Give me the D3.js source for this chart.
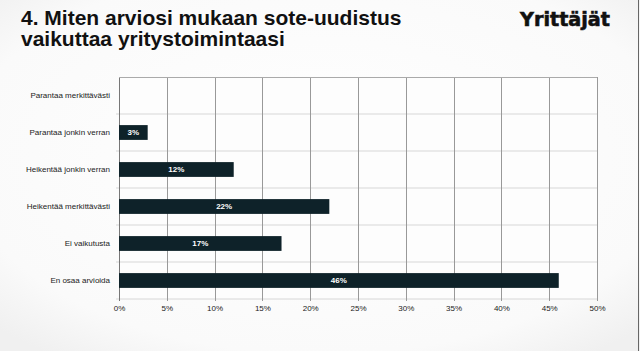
<!DOCTYPE html>
<meta charset="utf-8">
<style>
body { margin: 0; background: #fbfbfb; }
text { font-family: "Liberation Sans", Arial, sans-serif; }
.title { font-size: 21px; font-weight: bold; fill: #111; }
.brand { font-family: "DejaVu Sans", sans-serif; font-size: 19px; font-weight: bold; fill: #111; stroke: #111; stroke-width: 0.6px; }
.axis text { font-size: 8px; fill: #222; }
.bar { fill: #0e2229; }
.bar-label { fill: #fff; font-size: 8px; font-weight: bold; text-anchor: middle; }
</style>
<svg width="640" height="351"></svg>
<script src="https://cdn.jsdelivr.net/npm/d3@7"></script>
<script>

var categories = ["Parantaa merkittävästi", "Parantaa jonkin verran", "Heikentää jonkin verran",
                  "Heikentää merkittävästi", "Ei vaikutusta", "En osaa arvioida"];
var values = [0, 3, 12, 22, 17, 46];
var ticks = [0, 5, 10, 15, 20, 25, 30, 35, 40, 45, 50];

var svg = d3.select("svg"),
    margin = {top: 77, right: 43, bottom: 52, left: 119},
    width = +svg.attr("width") - margin.left - margin.right,
    height = +svg.attr("height") - margin.top - margin.bottom;

// soft card look
var defs = svg.append("defs");
var grad = defs.append("radialGradient").attr("id", "bg")
    .attr("cx", "50%").attr("cy", "45%").attr("r", "70%");
grad.append("stop").attr("offset", "0%").attr("stop-color", "#ffffff");
grad.append("stop").attr("offset", "80%").attr("stop-color", "#fafafa");
grad.append("stop").attr("offset", "100%").attr("stop-color", "#f0f0f0");
svg.append("rect").attr("width", 640).attr("height", 351).attr("fill", "url(#bg)");
svg.append("line").attr("x1", 638.5).attr("x2", 638.5).attr("y1", 0).attr("y2", 351)
    .attr("stroke", "#666").attr("stroke-width", 1);

svg.append("text").attr("class", "title").attr("x", 21).attr("y", 25)
    .text("4. Miten arviosi mukaan sote-uudistus");
svg.append("text").attr("class", "title").attr("x", 21).attr("y", 46)
    .text("vaikuttaa yritystoimintaasi");
svg.append("text").attr("class", "brand").attr("x", 520).attr("y", 26)
    .attr("textLength", 90).attr("lengthAdjust", "spacingAndGlyphs")
    .text("Yrittäjät");

var x = d3.scaleLinear().domain([0, 50]).range([0, width]),
    y = d3.scaleBand().domain(categories).range([0, height]).paddingInner(0.6).paddingOuter(0.3);
var band = d3.scaleBand().domain(categories).range([0, height]);

var g = svg.append("g")
    .attr("transform", "translate(" + margin.left + "," + margin.top + ")");

g.append("rect").attr("width", width).attr("height", height).attr("fill", "#fdfdfd");

// horizontal grid at band boundaries
g.selectAll(".hgrid")
  .data(categories)
  .enter().append("line")
    .attr("x1", -3).attr("x2", width)
    .attr("y1", function(d) { return band(d) + band.bandwidth(); })
    .attr("y2", function(d) { return band(d) + band.bandwidth(); })
    .attr("stroke", "#e3e3e3").attr("stroke-width", 1.5);

// vertical grid
g.selectAll(".vgrid")
  .data(ticks)
  .enter().append("line")
    .attr("x1", function(d) { return Math.round(x(d)) + 0.5; })
    .attr("x2", function(d) { return Math.round(x(d)) + 0.5; })
    .attr("y1", 0).attr("y2", height + 2)
    .attr("stroke", function(d) { return d === 0 ? "#777" : "#999"; })
    .attr("stroke-width", 1);

g.append("line").attr("x1", 0).attr("x2", width).attr("y1", 0.5).attr("y2", 0.5)
    .attr("stroke", "#aaa");

g.append("g")
    .attr("class", "axis")
    .attr("transform", "translate(0," + height + ")")
    .call(d3.axisBottom(x).tickValues(ticks).tickSize(0).tickPadding(6)
      .tickFormat(function(d) { return d + "%"; }))
    .call(function(a) { a.select(".domain").remove(); });

g.append("g")
    .attr("class", "axis")
    .call(d3.axisLeft(band).tickSize(0).tickPadding(9))
    .call(function(a) { a.select(".domain").remove(); });

g.selectAll(".bar")
  .data(values)
  .enter().append("rect")
    .attr("class", "bar")
    .attr("x", 0)
    .attr("y", function(d, i) { return y(categories[i]); })
    .attr("width", function(d) { return x(d); })
    .attr("height", y.bandwidth());

g.selectAll(".bar-label")
  .data(values.filter(function(d) { return d > 0; }))
  .enter().append("text")
    .attr("class", "bar-label")
    .attr("x", function(d) { return x(d) / 2; })
    .attr("y", function(d) { return y(categories[values.indexOf(d)]) + y.bandwidth() / 2; })
    .attr("dy", "0.35em")
    .text(function(d) { return d + "%"; });

</script>
